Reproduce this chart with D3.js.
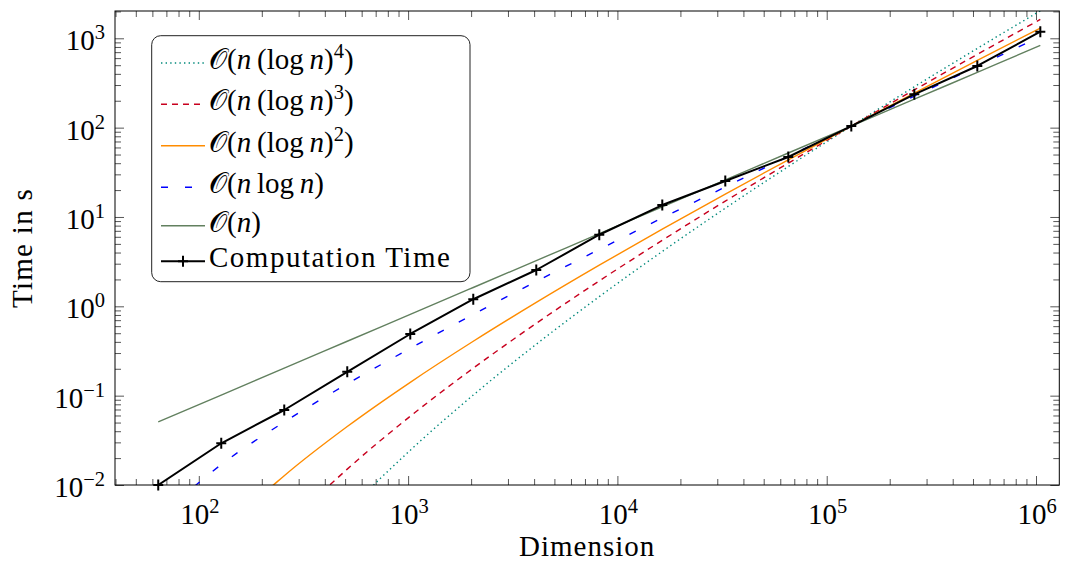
<!DOCTYPE html>
<html>
<head>
<meta charset="utf-8">
<script src="https://cdn.jsdelivr.net/npm/d3@7"></script>
<style>
  html, body { margin: 0; padding: 0; background: #fff; }
</style>
</head>
<body>
<svg id="fig" width="1066" height="562"></svg>
<script>
// Problem sizes (powers of two, 2^6 .. 2^20)
const dimension = [64, 128, 256, 512, 1024, 2048, 4096, 8192, 16384, 32768, 65536, 131072, 262144, 524288, 1048576];

// Measured wall-clock time in seconds
const computationTime = [0.01, 0.0293, 0.0691, 0.185, 0.49, 1.2, 2.55, 6.33, 13.6, 25.3, 46.9, 104, 236, 490, 1185];

// Reference complexity curves, scaled to meet the measurement at 2^17
const orderN     = [0.05078, 0.1016, 0.2031, 0.4063, 0.8125, 1.625, 3.25, 6.5, 13, 26, 52, 104, 208, 416, 832];
const orderNLogN = [0.004232, 0.01693, 0.05078, 0.1354, 0.3385, 0.8125, 1.896, 4.333, 9.75, 21.67, 47.67, 104, 225.3, 485.3, 1040];
const orderNLog2 = [0.0003527, 0.002821, 0.0127, 0.04514, 0.1411, 0.4063, 1.106, 2.889, 7.313, 18.06, 43.69, 104, 244.1, 566.2, 1300];
const orderNLog3 = [0.00002939, 0.0004702, 0.003174, 0.01505, 0.05878, 0.2031, 0.6451, 1.926, 5.484, 15.05, 40.05, 104, 264.5, 660.6, 1625];
const orderNLog4 = [0.000002449, 0.00007837, 0.0007935, 0.005015, 0.02449, 0.1016, 0.3763, 1.284, 4.113, 12.54, 36.72, 104, 286.5, 770.7, 2031];

// Legend labels, in legend order
const seriesLabels = ["\uD835\uDCAA(n (log n)^4)", "\uD835\uDCAA(n (log n)^3)", "\uD835\uDCAA(n (log n)^2)", "\uD835\uDCAA(n log n)", "\uD835\uDCAA(n)", "Computation Time"];

// Decade exponents for the tick labels
const xTickExponents = [2, 3, 4, 5, 6];
const yTickExponents = [-2, -1, 0, 1, 2, 3];

// ---------------------------------------------------------------
const FONT = '"Liberation Serif"';
const svg = d3.select("#fig");
const plot = { left: 115, right: 1059.3, top: 11, bottom: 485 };

const x = d3.scaleLog()
  .domain([Math.pow(10, 1.5996), Math.pow(10, 6.1113)])
  .range([plot.left, plot.right]);
const y = d3.scaleLog()
  .domain([0.01, Math.pow(10, 3.3056)])
  .range([plot.bottom, plot.top]);

// Major / minor tick values inside the domains
function decadeTicks(scale) {
  const [a, b] = scale.domain();
  const lo = Math.floor(Math.log10(a)), hi = Math.ceil(Math.log10(b));
  const major = [], minor = [];
  for (let e = lo; e <= hi; e++) {
    const base = Math.pow(10, e);
    if (base >= a * 0.9999 && base <= b * 1.0001) major.push(base);
    for (let m = 2; m <= 9; m++) {
      const v = m * base;
      if (v >= a && v <= b) minor.push(v);
    }
  }
  return { major, minor };
}
const xt = decadeTicks(x), yt = decadeTicks(y);

const tickStroke = "#444", tickWidth = 0.9;
function drawTicks(axisGen, transform) {
  const g = svg.append("g").attr("transform", transform).call(axisGen);
  g.select(".domain").remove();
  g.selectAll(".tick line").attr("stroke", tickStroke).attr("stroke-width", tickWidth);
  g.selectAll(".tick text").remove();
}
// inward ticks on all four sides
drawTicks(d3.axisBottom(x).tickValues(xt.minor).tickSize(-6).tickFormat(""), `translate(0,${plot.bottom})`);
drawTicks(d3.axisBottom(x).tickValues(xt.major).tickSize(-9).tickFormat(""), `translate(0,${plot.bottom})`);
drawTicks(d3.axisTop(x).tickValues(xt.minor).tickSize(-6).tickFormat(""), `translate(0,${plot.top})`);
drawTicks(d3.axisTop(x).tickValues(xt.major).tickSize(-9).tickFormat(""), `translate(0,${plot.top})`);
drawTicks(d3.axisLeft(y).tickValues(yt.minor).tickSize(-6).tickFormat(""), `translate(${plot.left},0)`);
drawTicks(d3.axisLeft(y).tickValues(yt.major).tickSize(-9).tickFormat(""), `translate(${plot.left},0)`);
drawTicks(d3.axisRight(y).tickValues(yt.minor).tickSize(-6).tickFormat(""), `translate(${plot.right},0)`);
drawTicks(d3.axisRight(y).tickValues(yt.major).tickSize(-9).tickFormat(""), `translate(${plot.right},0)`);

// Text helper: every label uses the same serif face
function addText(parent) {
  return parent.append("text")
    .attr("font-family", "Liberation Serif")
    .style("font-family", FONT, "important");
}

// Power-of-ten tick labels
const fontSize = 29, supSize = 20.5, supRaise = 11;
function powerLabel(sel, exp) {
  sel.append("tspan").text("10");
  sel.append("tspan").attr("dy", -supRaise).attr("font-size", supSize)
    .text(exp < 0 ? "\u2212" + Math.abs(exp) : String(exp));
}
xTickExponents.forEach(e => {
  const t = addText(svg)
    .attr("x", x(Math.pow(10, e)) + 1)
    .attr("y", 524)
    .attr("text-anchor", "middle")
    .attr("font-size", fontSize);
  powerLabel(t, e);
});
yTickExponents.forEach(e => {
  const t = addText(svg)
    .attr("x", 105)
    .attr("y", y(Math.pow(10, e)) + 12)
    .attr("text-anchor", "end")
    .attr("font-size", fontSize);
  powerLabel(t, e);
});

// Axis titles
addText(svg)
  .attr("x", (plot.left + plot.right) / 2).attr("y", 556)
  .attr("text-anchor", "middle").attr("font-size", fontSize)
  .attr("letter-spacing", 1).text("Dimension");
addText(svg)
  .attr("transform", `translate(32,${(plot.top + plot.bottom) / 2}) rotate(-90)`)
  .attr("text-anchor", "middle").attr("font-size", fontSize)
  .attr("letter-spacing", 1.3).text("Time in s");

// Series
const series = [
  { label: seriesLabels[0], values: orderNLog4, color: "#00897b", width: 1.4, dash: "1.4 3.2", smooth: true },
  { label: seriesLabels[1], values: orderNLog3, color: "#c8001e", width: 1.4, dash: "6 5", smooth: true },
  { label: seriesLabels[2], values: orderNLog2, color: "#ff8c00", width: 1.4, dash: null, smooth: true },
  { label: seriesLabels[3], values: orderNLogN, color: "#0000ff", width: 1.4, dash: "7 17", smooth: true },
  { label: seriesLabels[4], values: orderN,     color: "#62805f", width: 1.4, dash: null, smooth: true },
  { label: seriesLabels[5], values: computationTime, color: "#000", width: 2, dash: null, marks: true }
];

svg.append("defs").append("clipPath").attr("id", "plotClip")
  .append("rect")
  .attr("x", plot.left).attr("y", plot.top)
  .attr("width", plot.right - plot.left).attr("height", plot.bottom - plot.top);

const polyline = d3.line().x(d => x(d[0])).y(d => y(d[1]));
const smoothLine = d3.line().x(d => x(d[0])).y(d => y(d[1])).curve(d3.curveMonotoneX);

const curves = svg.append("g").attr("clip-path", "url(#plotClip)");
series.forEach(s => {
  const pts = dimension.map((n, i) => [n, s.values[i]]);
  curves.append("path")
    .attr("d", (s.smooth ? smoothLine : polyline)(pts))
    .attr("fill", "none")
    .attr("stroke", s.color)
    .attr("stroke-width", s.width)
    .attr("stroke-linejoin", "round")
    .attr("stroke-dasharray", s.dash);
});

const plusPath = "M-5,0H5M0,-5.5V5.5";
const cs = series[5];
svg.append("g").selectAll("path")
  .data(dimension.map((n, i) => [n, cs.values[i]]))
  .join("path")
  .attr("transform", d => `translate(${x(d[0])},${y(d[1])})`)
  .attr("d", plusPath)
  .attr("stroke", "#000")
  .attr("stroke-width", 2)
  .attr("fill", "none");

// Frame
svg.append("rect")
  .attr("x", plot.left).attr("y", plot.top)
  .attr("width", plot.right - plot.left).attr("height", plot.bottom - plot.top)
  .attr("fill", "none").attr("stroke", "#000").attr("stroke-width", 1);

// Legend
const legend = svg.append("g");
legend.append("rect")
  .attr("x", 151.7).attr("y", 35.7).attr("width", 318.3).attr("height", 246)
  .attr("rx", 9).attr("ry", 9)
  .attr("fill", "#fff").attr("stroke", "#222").attr("stroke-width", 1);

const rowBaselines = [69, 110.3, 151.7, 193.3, 231.7, 267.3];

// Renders a label: "n" italic, "log" upright, "^k" as superscript
function renderLabel(sel, str) {
  if (!str.startsWith("\uD835\uDCAA")) {
    sel.attr("letter-spacing", 1.5).text(str);
    return;
  }
  let i = 0, buf = "";
  let lowered = false;
  const flush = () => { if (buf) { sel.append("tspan").text(buf); buf = ""; } };
  const put = (txt, italic) => {
    const t = sel.append("tspan").text(txt);
    if (italic) t.attr("font-style", "italic");
    if (lowered) { t.attr("dy", supRaise); lowered = false; }
  };
  while (i < str.length) {
    const c = str[i];
    if (str.startsWith("log", i)) {
      flush(); put("log", false); i += 3;
    } else if (c === "^") {
      flush();
      sel.append("tspan").attr("dy", -supRaise).attr("font-size", supSize).text(str[i + 1]);
      lowered = true;
      i += 2;
    } else if (c === "n") {
      flush(); put("n", true); i += 1;
    } else if (c === " ") {
      flush(); put("\u2009", false); i += 1;
    } else {
      if (lowered) { put(c, false); } else { buf += c; }
      i += 1;
    }
  }
  flush();
}

series.forEach((s, k) => {
  const by = rowBaselines[k];
  const ly = by - 6;
  legend.append("line")
    .attr("x1", 161).attr("x2", 205).attr("y1", ly).attr("y2", ly)
    .attr("stroke", s.color).attr("stroke-width", s.width)
    .attr("stroke-dasharray", s.dash);
  if (s.marks) {
    legend.append("path")
      .attr("transform", `translate(183,${ly})`)
      .attr("d", plusPath).attr("stroke", "#000").attr("stroke-width", 2);
  }
  const t = addText(legend)
    .attr("x", 209).attr("y", by)
    .attr("font-size", fontSize);
  renderLabel(t, s.label);
});
</script>
</body>
</html>
